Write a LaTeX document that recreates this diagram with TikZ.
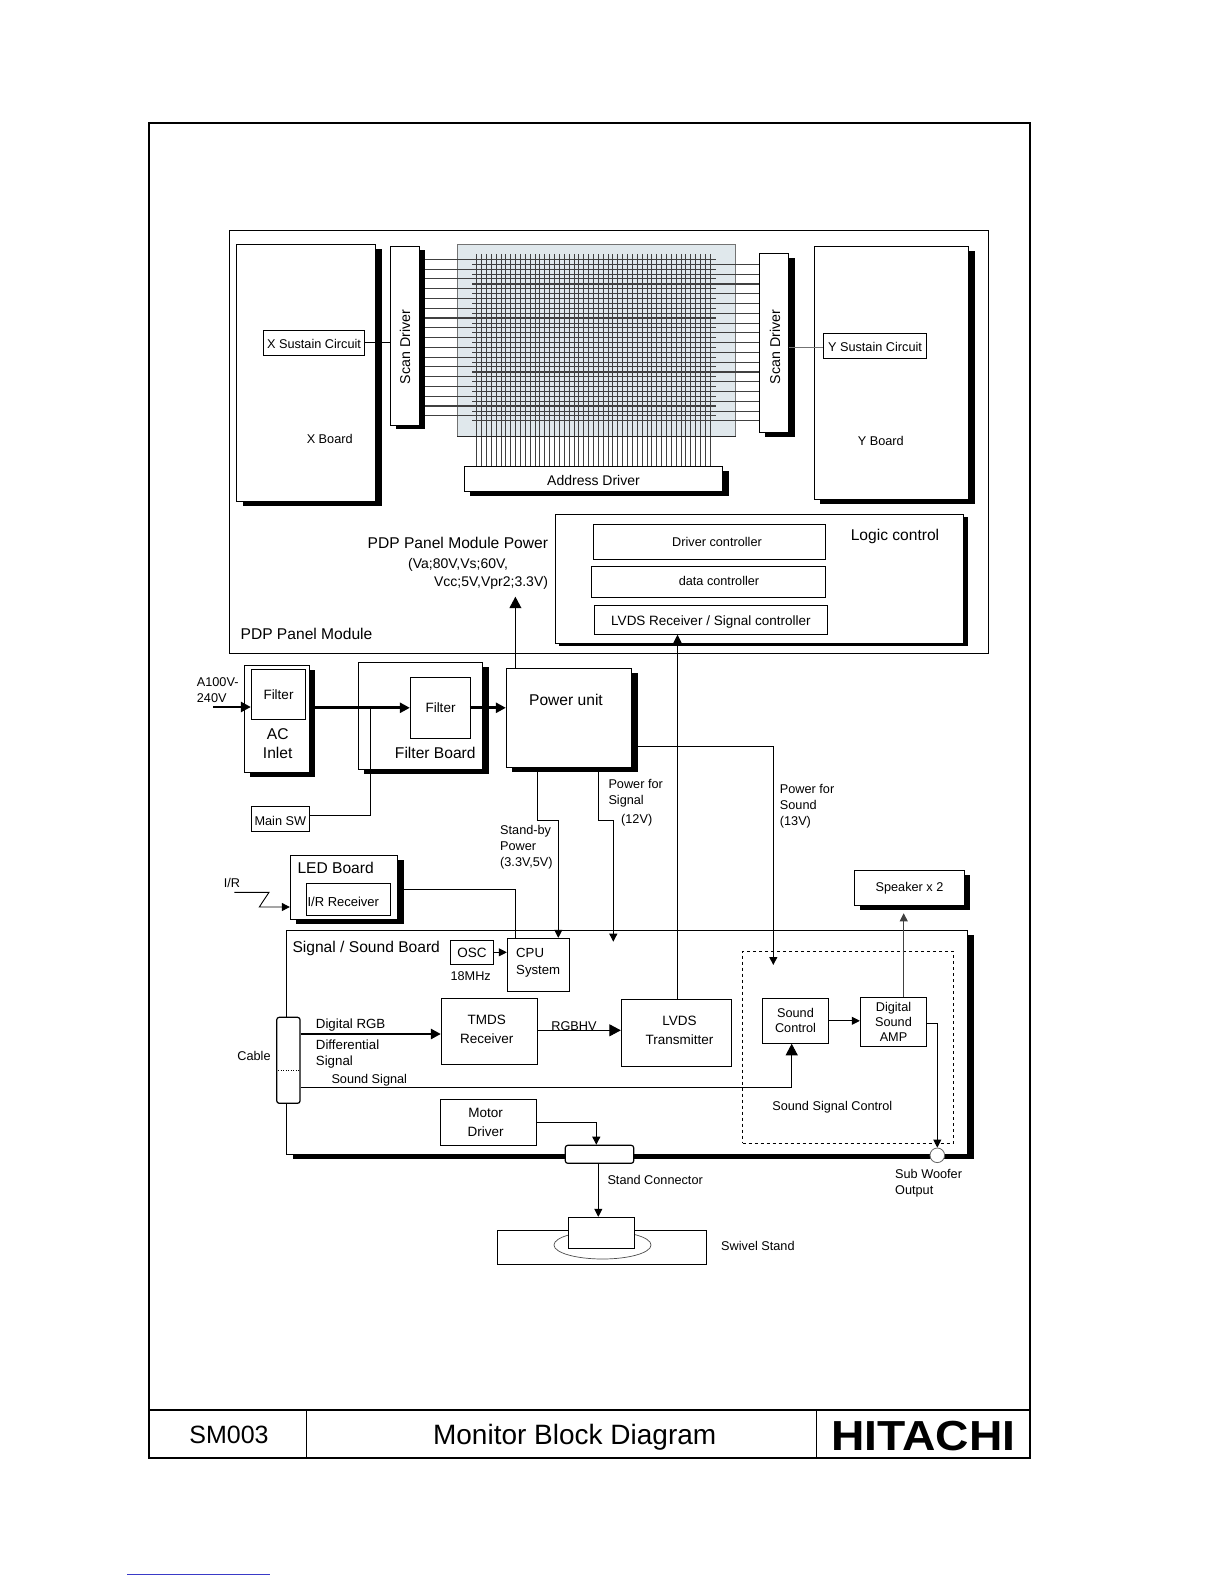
\documentclass[tikz,border=0pt]{standalone}
\usepackage{fontspec}
\setmainfont{Liberation Sans}
\usepackage{graphicx}
\usetikzlibrary{arrows.meta,backgrounds,shadows,shapes.geometric}
\definecolor{panelblue}{HTML}{E0E8EC}
\definecolor{linkblue}{HTML}{3A3AC8}
\tikzset{box/.style={rectangle,draw,fill=white,line width=.9pt,inner sep=0pt,align=center},size/.style 2 args={minimum width=#1pt,minimum height=#2pt},hardshadow/.style={drop shadow={shadow xshift=6pt,shadow yshift=-4.5pt,opacity=1,fill=black}},txt/.style={inner sep=0pt,yshift=-1.5pt,align=left,font=\fontsize{12.7}{16}\selectfont},midtxt/.style={inner sep=0pt,align=center,font=\fontsize{13.5}{19}\selectfont},bigtxt/.style={inner sep=0pt,yshift=-1.5pt,align=center,font=\fontsize{15.6}{19}\selectfont},wire/.style={line width=.9pt},arrow/.style={wire,-{Triangle[length=8pt,width=8pt]}},bigarrow/.style={wire,-{Triangle[length=11.5pt,width=12pt]}},power/.style={line width=2.7pt,-{Triangle[length=10pt,width=10pt]}},gridline/.style={line width=1.1pt,black!75}}

\begin{document}
\begin{tikzpicture}[x=1pt,y=-1pt]
\useasboundingbox (0,0) rectangle (1224,1584);
\node[rectangle,draw,line width=1.8pt,size={881}{1335}] (frame) at (589.5,790.5) {};
\draw[line width=1.8pt] (frame.west |- 0,1410)--(frame.east |- 0,1410);
\draw[line width=1.2pt] (306.5,1410)--(306.5,1458);
\draw[line width=1.2pt] (816.5,1410)--(816.5,1458);
\node[inner sep=0pt,font=\fontsize{25}{25}\selectfont] (model) at (229,1435) {SM003};
\node[inner sep=0pt,font=\fontsize{28}{28}\selectfont] (title) at (574.7,1437) {Monitor Block Diagram};
\node[inner sep=0pt,font=\fontsize{42}{42}\selectfont\bfseries] (brand) at (923.5,1436) {\scalebox{1.1}[1]{HITACHI}};
\node[rectangle,draw,line width=.9pt,size={759.4}{423.4}] (module) at (609,442) {};
\node[box,hardshadow,size={139}{257.4}] (xboard) at (306.2,373) {};
\node[box,size={101.4}{25},font=\fontsize{12.7}{16}\selectfont,text height=11pt] (xsus) at (314,342.8) {X Sustain Circuit};
\node[box,drop shadow={shadow xshift=5.4pt,shadow yshift=-3.7pt,opacity=1,fill=black},size={29}{179}] (scanl) at (404.8,335.8) {};
\node[box,hardshadow,size={29.4}{179}] (scanr) at (774,342.8) {};
\node[box,hardshadow,size={154.4}{253}] (yboard) at (891.5,372.8) {};
\node[box,size={103.4}{25},font=\fontsize{12.7}{16}\selectfont,text height=11pt] (ysus) at (875,345.8) {Y Sustain Circuit};
\node[box,hardshadow,size={258.4}{25},font=\fontsize{14}{16}\selectfont,text height=14pt] (addr) at (593.5,478.8) {Address Driver};
\node[midtxt,font=\fontsize{14.2}{16}\selectfont,rotate=90] (scanltxt) at (405,347) {Scan Driver};
\node[midtxt,font=\fontsize{14.2}{16}\selectfont,rotate=90] (scanrtxt) at (775,347) {Scan Driver};
\node[txt] (xboardtxt) at (329.7,437.5) {X Board};
\node[txt] (yboardtxt) at (880.8,439.2) {Y Board};
\begin{scope}[on background layer]
\node[rectangle,draw=black!55,fill=panelblue,line width=.9pt,size={277.3}{191.7}] (panel) at (596.4,340.2) {};
\foreach \i in {0,...,16}{\pgfmathsetmacro\ya{259.3+9.78*\i}\pgfmathsetmacro\yb{264.4+9.78*\i}
\draw[gridline] (scanl.east |- 0,\ya)--(716,\ya);
\draw[gridline] (472,\yb)--(scanr.west |- 0,\yb);}
\foreach \i in {0,...,48}{\pgfmathsetmacro\xa{476.7+4.867*\i}
\draw[gridline,line width=1pt] (\xa,254)--(\xa,0 |- addr.north);}
\end{scope}
\draw[line width=1.2pt,black!85] (panel.south west)--(panel.south east);
\draw[wire] (xsus.east)--(xsus.east -| scanl.west);
\draw[wire,black!55] ([yshift=-2pt]ysus.west)--([yshift=-2pt]ysus.west -| scanr.east);
\node[box,drop shadow={shadow xshift=3.7pt,shadow yshift=-2.6pt,opacity=1,fill=black},size={408.2}{129.4}] (logic) at (759.7,579) {};
\node[box,size={231.3}{35}] (drvc) at (709.3,541.8) {};
\node[box,size={233.5}{30.7}] (datac) at (708.3,581.7) {};
\node[box,size={232.9}{29},font=\fontsize{13.5}{16}\selectfont,text height=15pt] (lvdsrx) at (710.9,619.8) {LVDS Receiver / Signal controller};
\node[midtxt,font=\fontsize{12.7}{16}\selectfont] (drvctxt) at (717,541.5) {Driver controller};
\node[midtxt,font=\fontsize{12.7}{16}\selectfont] (datactxt) at (719,581) {data controller};
\node[bigtxt] (logictxt) at (895,535) {Logic control};
\node[bigtxt,anchor=east] (pdppwr) at (548.2,541.5) {PDP Panel Module Power};
\node[txt,font=\fontsize{14}{16}\selectfont,anchor=west] (pdpva) at (408,563.5) {(Va;80V,Vs;60V,};
\node[txt,font=\fontsize{14}{16}\selectfont,anchor=east] (pdpvcc) at (548.2,581.7) {Vcc;5V,Vpr2;3.3V)};
\node[bigtxt,anchor=west] (moduletxt) at (240.4,632.5) {PDP Panel Module};
\node[box,hardshadow,size={65}{107}] (acbox) at (276.8,718.8) {};
\node[box,size={54.4}{50},font=\fontsize{13.5}{16}\selectfont] (filta) at (278.5,694.3) {Filter};
\node[bigtxt] (actxt) at (277.7,742) {AC\\Inlet};
\node[box,hardshadow,size={124.4}{107}] (filtbd) at (420.5,715.8) {};
\node[box,size={60.4}{61},font=\fontsize{13.5}{16}\selectfont] (filtb) at (440.5,707.8) {Filter};
\node[bigtxt] (filtbdtxt) at (435.3,751) {Filter Board};
\node[box,hardshadow,size={125.4}{99}] (power) at (569,717.8) {};
\node[bigtxt] (powertxt) at (566,698.5) {Power unit};
\node[box,size={58}{25},font=\fontsize{12.7}{16}\selectfont,text height=13pt] (mainsw) at (280.3,818.8) {Main SW};
\node[txt,anchor=west] (acvolt) at (196.7,689) {A100V-\\240V};
\node[box,hardshadow,size={107.4}{63.6}] (ledbd) at (344,887.5) {};
\node[bigtxt,anchor=west] (ledtxt) at (297.3,866) {LED Board};
\node[box,size={84.4}{32.4}] (irrx) at (348.5,899.5) {};
\node[txt,font=\fontsize{13}{16}\selectfont] (irrxtxt) at (343.3,900.5) {I/R Receiver};
\node[txt] (irtxt) at (232,881.5) {I/R};
\node[box,drop shadow={shadow xshift=6.3pt,shadow yshift=-4.7pt,opacity=1,fill=black},size={681}{223.6}] (sigbd) at (627.2,1042.5) {};
\node[bigtxt,anchor=west] (sigtxt) at (292.3,947) {Signal / Sound Board};
\node[box,size={43.4}{24},font=\fontsize{13.5}{16}\selectfont,text height=11pt] (osc) at (472,952.3) {OSC};
\node[txt] (osctxt) at (470.7,975) {18MHz};
\node[box,size={62.4}{53.4}] (cpu) at (538.5,965) {};
\node[txt,font=\fontsize{13.2}{17}\selectfont,anchor=west] (cputxt) at (516,961) {CPU\\System};
\node[box,rounded corners=2.5pt,line width=1.2pt,size={23.3}{86}] (cable) at (288.4,1060.3) {};
\node[txt] (cabletxt) at (254,1054.5) {Cable};
\node[box,size={96}{66}] (tmds) at (489.3,1031.3) {};
\node[midtxt] (tmdstxt) at (486.7,1029) {TMDS\\Receiver};
\node[box,size={110.4}{67}] (lvdstx) at (676.5,1032.8) {};
\node[midtxt] (lvdstxt) at (679.5,1030.5) {LVDS\\Transmitter};
\node[box,size={96}{46}] (motor) at (488.3,1122.3) {};
\node[midtxt] (motortxt) at (485.7,1122) {Motor\\Driver};
\node[box,rounded corners=2.5pt,line width=1.2pt,size={68.4}{18}] (standc) at (599.5,1154.3) {};
\node[rectangle,draw,dashed,line width=.9pt,size={210.6}{192.3}] (dashbox) at (848,1047.2) {};
\node[box,size={66.4}{45},font=\fontsize{12.7}{15}\selectfont] (sndc) at (795.5,1020.8) {Sound\\Control};
\node[box,size={66.4}{49},font=\fontsize{12.7}{15}\selectfont] (amp) at (893.5,1021.8) {Digital\\Sound\\AMP};
\node[circle,draw=black!60,fill=white,line width=.8pt,inner sep=0pt,minimum size=14.6pt] (subw) at (937.3,1155.3) {};
\node[box,drop shadow={shadow xshift=5.3pt,shadow yshift=-4.3pt,opacity=1,fill=black},size={110.4}{35},font=\fontsize{12.7}{16}\selectfont] (speaker) at (909.5,887.8) {Speaker x 2};
\node[txt,font=\fontsize{13.3}{16}\selectfont,anchor=west] (dgtxt) at (315.7,1023.3) {Digital RGB};
\node[txt,font=\fontsize{13.3}{16}\selectfont,anchor=west] (difftxt) at (315.7,1052.7) {Differential\\Signal};
\node[txt,anchor=west] (sndsigtxt) at (331.3,1078.7) {Sound Signal};
\node[txt] (rgbtxt) at (574,1024.7) {RGBHV};
\node[txt] (ssctxt) at (832.3,1106) {Sound Signal Control};
\node[txt,anchor=west] (pwsigtxt) at (608.3,791.5) {Power for\\Signal};
\node[txt,anchor=west] (v12txt) at (621,818.3) {(12V)};
\node[txt,anchor=west] (sbytxt) at (500,845.3) {Stand-by\\Power\\(3.3V,5V)};
\node[txt,anchor=west] (pwsndtxt) at (779.7,805) {Power for\\Sound\\(13V)};
\node[txt,anchor=west] (subtxt) at (895,1181.3) {Sub Woofer\\Output};
\node[txt,anchor=west] (standctxt) at (607.3,1178) {Stand Connector};
\node[txt,anchor=west] (swiveltxt) at (721,1244) {Swivel Stand};
\node[box,size={208.7}{34}] (stand) at (601.7,1247.3) {};
\node[ellipse,draw=black!70,line width=.7pt,size={97}{28}] (swivel) at (602.5,1245) {};
\node[box,size={66.4}{31}] (hub) at (601.5,1232.8) {};
\coordinate (pdpend) at (515.4,596.7);
\coordinate (acin) at (213.3,707);
\coordinate (swjoin) at (370.3,707.8);
\coordinate (sbyknee) at (558.3,820.3);
\coordinate (sigknee) at (613.3,820.3);
\coordinate (sigend) at (613.3,941.7);
\coordinate (sndend) at (773.3,965);
\coordinate (irstart) at (234.3,892.3);
\coordinate (irknee) at (269,892.3);
\coordinate (irlow) at (259.3,907);
\coordinate (rgbin) at ([yshift=-2.7pt]tmds.west);
\coordinate (standout) at ([xshift=-1.2pt]standc.south);
\coordinate (spkin) at (903.7,913.3);
\coordinate (linka) at (127,1574);
\coordinate (linkb) at (270,1574);
\draw[bigarrow] ([xshift=-53.6pt]power.north)--(pdpend);
\draw[arrow] ([xshift=1pt]lvdstx.north)--([xshift=1pt]lvdstx.north |- lvdsrx.south);
\draw[power] (acin)--(filta.west |- acin);
\draw[power] ([xshift=4pt]acbox.east |- filtb.west)--(filtb.west);
\draw[power] ([xshift=-1.4pt]filtb.east)--(filtb.east -| power.west);
\draw[wire] ([yshift=3.5pt]mainsw.east) -| (swjoin);
\draw[arrow] ([xshift=-31.3pt]power.south) |- (sbyknee)--(sbyknee |- cpu.north);
\draw[arrow] ([xshift=29.7pt]power.south) |- (sigknee)--(sigend);
\draw[arrow] ([yshift=-28.9pt]power.east) -| (sndend);
\draw[wire] ([yshift=-1.8pt]ledbd.east) -| ([xshift=-23.2pt]cpu.north);
\draw[arrow] (irstart)--(irknee)--(irlow)--(irlow -| ledbd.west);
\draw[arrow] (osc.east)--(osc.east -| cpu.west);
\draw[power] (cable.east |- rgbin)--(rgbin);
\draw[bigarrow] ([yshift=1pt]tmds.east)--([yshift=1pt]tmds.east -| lvdstx.west);
\draw[bigarrow] ([yshift=-27pt]cable.east) -| ([xshift=-3.8pt]sndc.south);
\draw[dotted,line width=.5pt] ([xshift=2pt,yshift=-10.4pt]cable.west)--([xshift=-2pt,yshift=-10.4pt]cable.east);
\draw[arrow] (motor.east) -| ([xshift=-3.2pt]standc.north);
\draw[arrow] (standout)--(standout |- hub.north);
\draw[arrow] (sndc.east)--(sndc.east -| amp.west);
\draw[arrow,black!75] ([xshift=10.2pt]amp.north)--(spkin);
\draw[arrow] ([yshift=-1.5pt]amp.east) -| (subw.north);
\draw[linkblue,line width=1pt] (linka)--(linkb);
\end{tikzpicture}
\end{document}
